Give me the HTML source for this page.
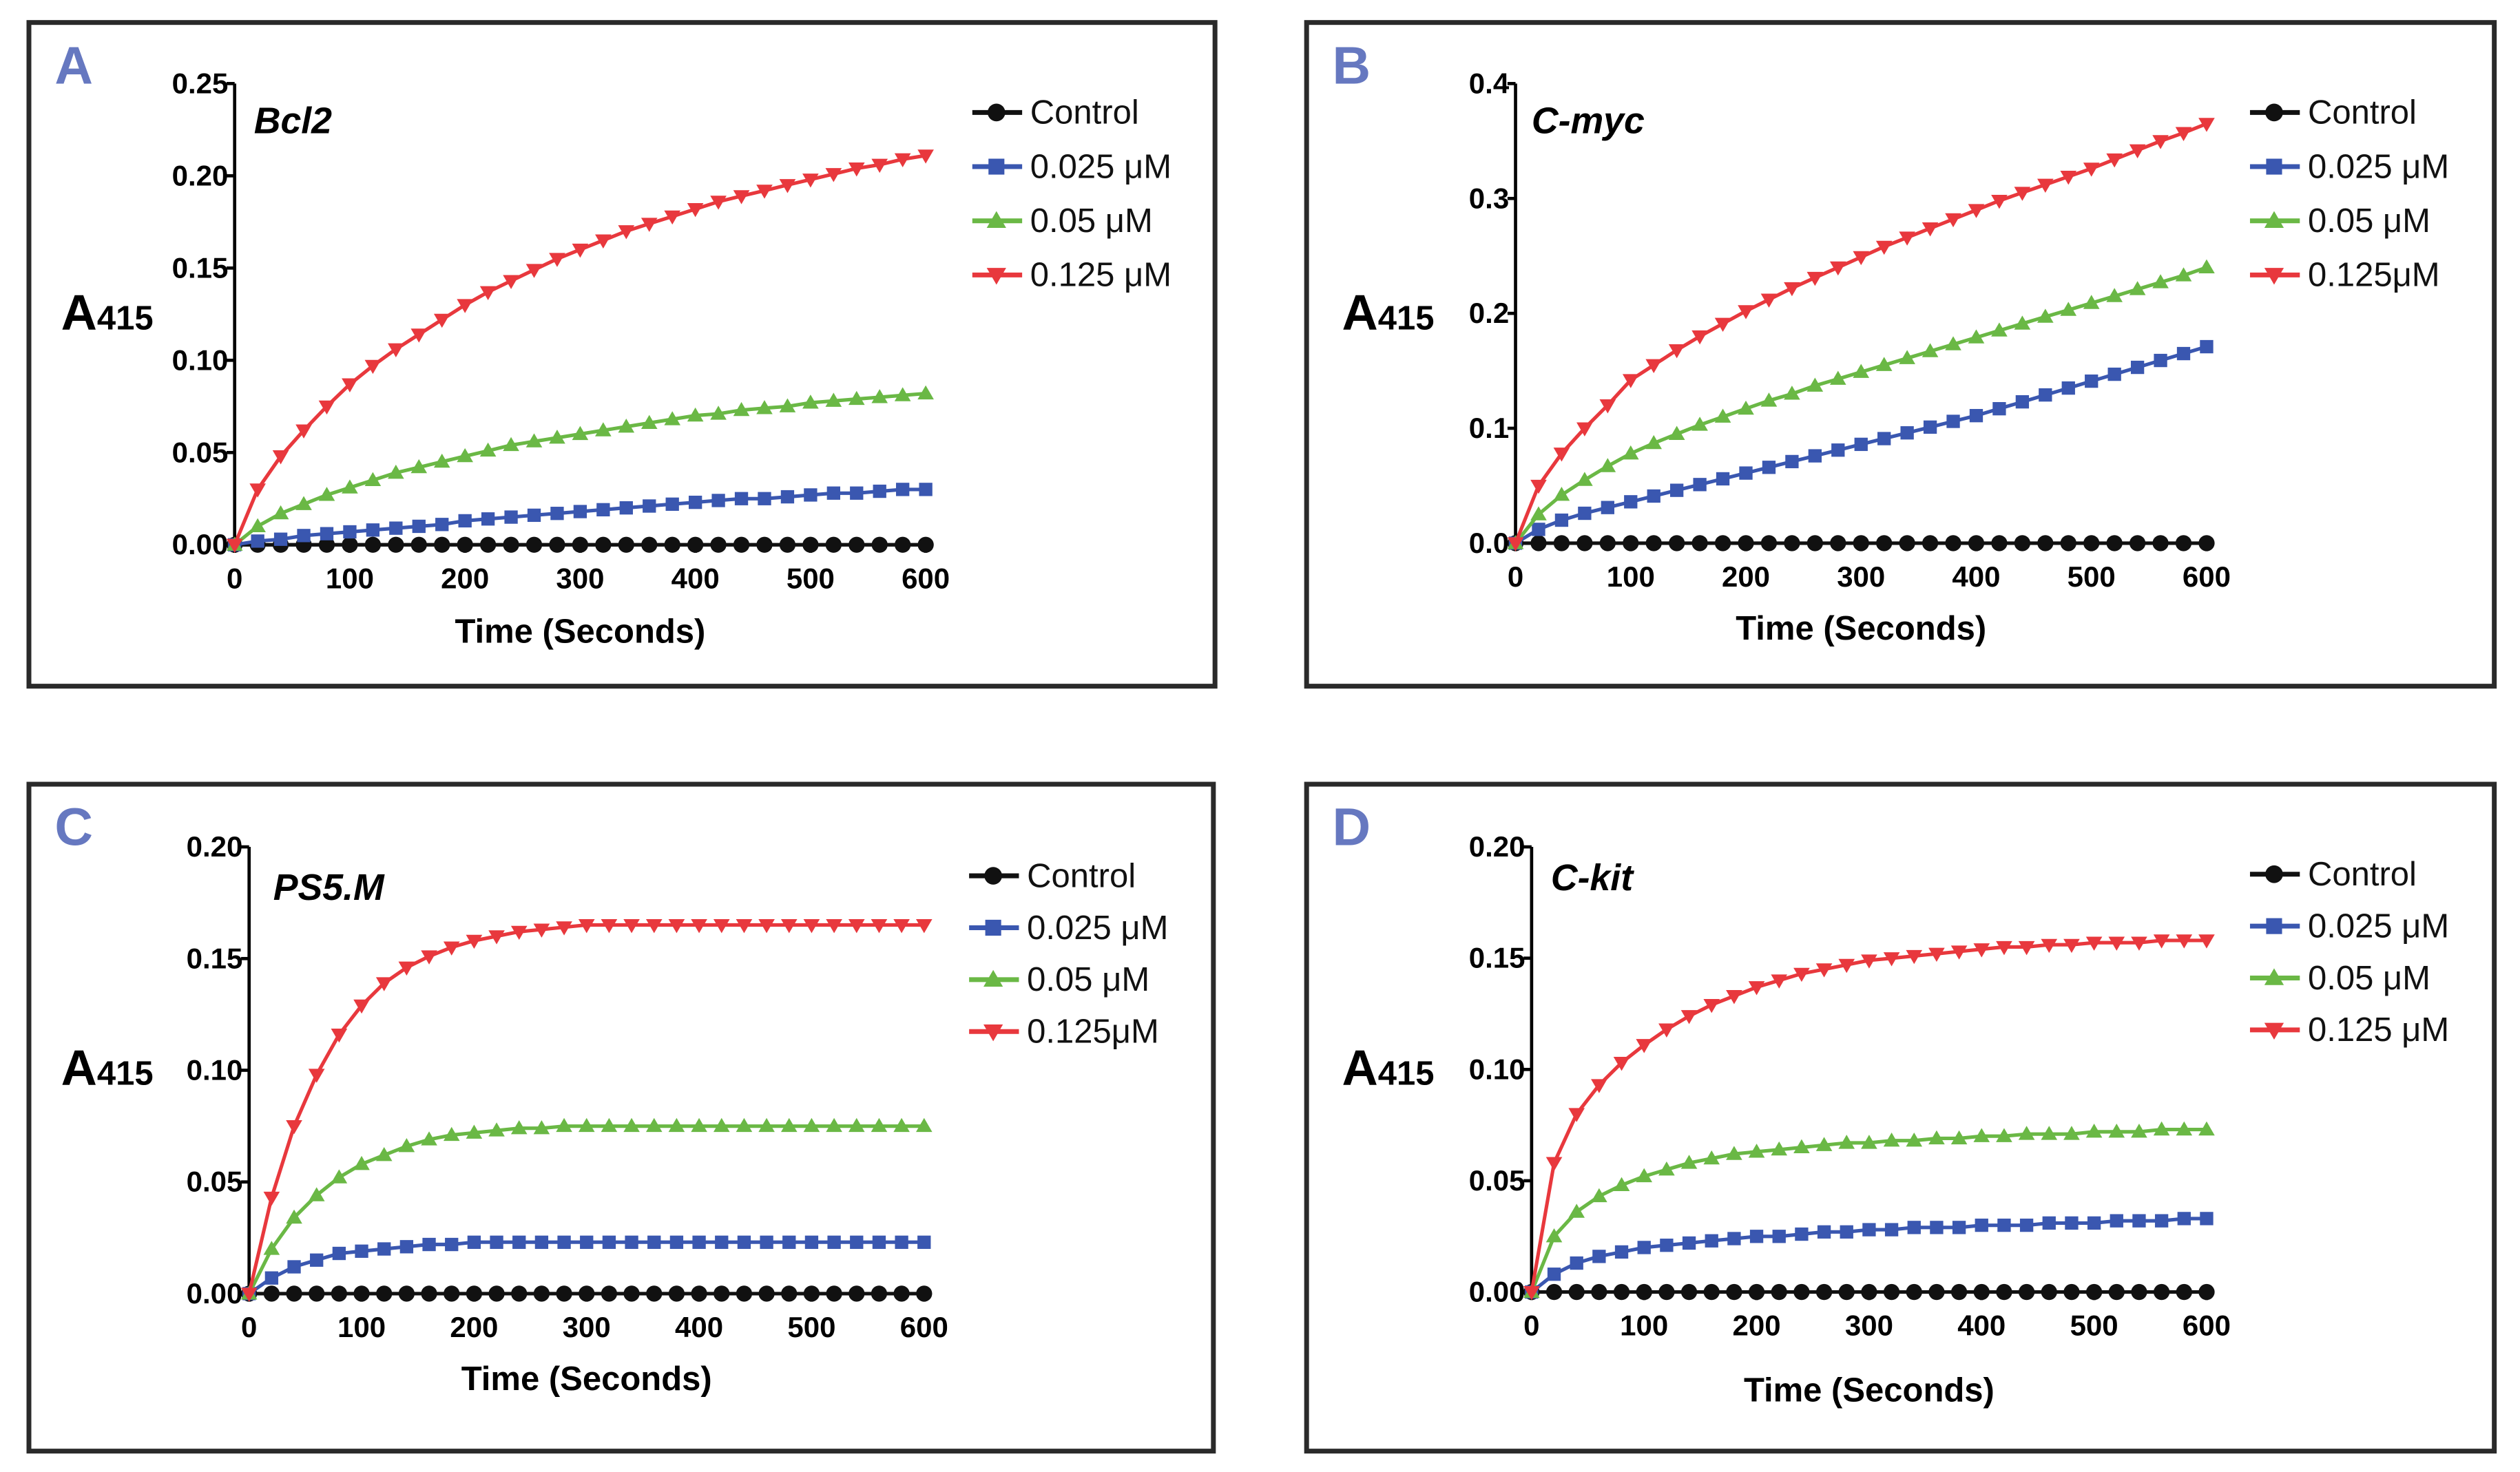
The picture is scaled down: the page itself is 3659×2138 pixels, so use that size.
<!DOCTYPE html>
<html><head><meta charset="utf-8"><style>
html,body{margin:0;padding:0;background:#fff;}
svg{display:block;font-family:"Liberation Sans",sans-serif;}
</style></head><body>
<svg id="fig" width="3659" height="2138" viewBox="0 0 1568 916" preserveAspectRatio="none" xmlns="http://www.w3.org/2000/svg"></svg>
<script>
const times = [0,20,40,60,80,100,120,140,160,180,200,220,240,260,280,300,320,340,360,380,400,420,440,460,480,500,520,540,560,580,600];
const xTicks = [0,100,200,300,400,500,600];
const legendLabelsA = ["Control","0.025 μM","0.05 μM","0.125 μM"];
const legendLabelsB = ["Control","0.025 μM","0.05 μM","0.125μM"];
const legendLabelsC = ["Control","0.025 μM","0.05 μM","0.125μM"];
const legendLabelsD = ["Control","0.025 μM","0.05 μM","0.125 μM"];
const ticksA = [0,0.05,0.10,0.15,0.20,0.25];
const tickLabelsA = ["0.00","0.05","0.10","0.15","0.20","0.25"];
const ticksB = [0,0.1,0.2,0.3,0.4];
const tickLabelsB = ["0.0","0.1","0.2","0.3","0.4"];
const ticksCD = [0,0.05,0.10,0.15,0.20];
const tickLabelsCD = ["0.00","0.05","0.10","0.15","0.20"];
const ctrl = times.map(()=>0);
const aBlue = [0,.002,.003,.005,.006,.007,.008,.009,.010,.011,.013,.014,.015,.016,.017,.018,.019,.020,.021,.022,.023,.024,.025,.025,.026,.027,.028,.028,.029,.030,.030];
const aGreen = [0,.010,.017,.022,.027,.031,.035,.039,.042,.045,.048,.051,.054,.056,.058,.060,.062,.064,.066,.068,.070,.071,.073,.074,.075,.077,.078,.079,.080,.081,.082];
const aRed = [0,.030,.048,.062,.075,.087,.097,.106,.114,.122,.130,.137,.143,.149,.155,.160,.165,.170,.174,.178,.182,.186,.189,.192,.195,.198,.201,.204,.206,.209,.211];
const bBlue = [0,.012,.020,.026,.031,.036,.041,.046,.051,.056,.061,.066,.071,.076,.081,.086,.091,.096,.101,.106,.111,.117,.123,.129,.135,.141,.147,.153,.159,.165,.171];
const bGreen = [0,.025,.042,.055,.067,.078,.087,.095,.103,.110,.117,.124,.130,.137,.143,.149,.155,.161,.167,.173,.179,.185,.191,.197,.203,.209,.215,.221,.227,.233,.240];
const bRed = [0,.050,.078,.100,.120,.142,.155,.168,.180,.191,.202,.212,.222,.231,.240,.249,.258,.266,.274,.282,.290,.298,.305,.312,.319,.326,.334,.342,.350,.357,.365];
const cBlue = [0,.007,.012,.015,.018,.019,.020,.021,.022,.022,.023,.023,.023,.023,.023,.023,.023,.023,.023,.023,.023,.023,.023,.023,.023,.023,.023,.023,.023,.023,.023];
const cGreen = [0,.020,.034,.044,.052,.058,.062,.066,.069,.071,.072,.073,.074,.074,.075,.075,.075,.075,.075,.075,.075,.075,.075,.075,.075,.075,.075,.075,.075,.075,.075];
const cRed = [0,.043,.075,.098,.116,.129,.139,.146,.151,.155,.158,.160,.162,.163,.164,.165,.165,.165,.165,.165,.165,.165,.165,.165,.165,.165,.165,.165,.165,.165,.165];
const dBlue = [0,.008,.013,.016,.018,.020,.021,.022,.023,.024,.025,.025,.026,.027,.027,.028,.028,.029,.029,.029,.030,.030,.030,.031,.031,.031,.032,.032,.032,.033,.033];
const dGreen = [0,.025,.036,.043,.048,.052,.055,.058,.060,.062,.063,.064,.065,.066,.067,.067,.068,.068,.069,.069,.070,.070,.071,.071,.071,.072,.072,.072,.073,.073,.073];
const dRed = [0,.058,.080,.093,.103,.111,.118,.124,.129,.133,.137,.140,.143,.145,.147,.149,.150,.151,.152,.153,.154,.155,.155,.156,.156,.157,.157,.157,.158,.158,.158];

const NS="http://www.w3.org/2000/svg";
const svg=document.getElementById('fig');
const COLORS=["#111","#3a57b0","#6ab845","#e8383d"];
const MARK=["circle","square","up","down"];
function mk(tag,attrs,parent){const e=document.createElementNS(NS,tag);for(const k in attrs)e.setAttribute(k,attrs[k]);(parent||svg).appendChild(e);return e;}
function txt(s,attrs,parent){const e=mk('text',attrs,parent);e.textContent=s;return e;}
function marker(g,type,x,y,c,s){
  let e;
  if(type==="circle") e=mk('circle',{cx:x,cy:y,r:s,fill:c},g);
  else if(type==="square") e=mk('rect',{x:x-s*0.9,y:y-s*0.9,width:s*1.8,height:s*1.8,fill:c},g);
  else if(type==="up") e=mk('polygon',{points:`${x},${y-s*1.1} ${x-s*1.1},${y+s*0.8} ${x+s*1.1},${y+s*0.8}`,fill:c},g);
  else e=mk('polygon',{points:`${x},${y+s*1.1} ${x-s*1.1},${y-s*0.8} ${x+s*1.1},${y-s*0.8}`,fill:c},g);
  return e;
}
function panel(p){
  const g=mk('g',{});
  
  
  const box=mk('rect',{x:p.box[0],y:p.box[1],width:p.box[2]-p.box[0],height:p.box[3]-p.box[1],fill:'none',stroke:'#2a2a2a','stroke-width':3},g);
  
  
  const X=t=>p.x0+(t/600)*(p.x1-p.x0);
  const Y=v=>p.y0-(v/p.ymax)*(p.y0-p.y1);
  const letter=txt(p.id,{x:p.box[0]+16,y:p.box[1]+38,'font-size':33,'font-weight':'bold',fill:'#6678c0'},g);
  
  
  const yl=mk('text',{x:p.alab[0],y:p.alab[1],'font-weight':'bold',fill:'#000'},g);
  
  
  const t1=mk('tspan',{'font-size':31},yl);t1.textContent='A';
  const t2=mk('tspan',{'font-size':21},yl);t2.textContent='415';
  const title=txt(p.title,{x:p.tpos[0],y:p.tpos[1],'font-size':23,'font-weight':'bold','font-style':'italic'},g);
  
  
  const ax=mk('path',{d:`M${p.x0},${p.y1} V${p.y0} H${X(600)}`,stroke:'#000','stroke-width':2,fill:'none'},g);
  
  
  p.ticks.forEach((v,i)=>{
    mk('line',{x1:p.x0-5,x2:p.x0,y1:Y(v),y2:Y(v),stroke:'#000','stroke-width':2},g);
    const t=txt(p.tickLabels[i],{x:p.x0-4,y:Y(v)+6,'font-size':18,'font-weight':'bold','text-anchor':'end'},g);
    
    
  });
  xTicks.forEach(v=>{
    mk('line',{x1:X(v),x2:X(v),y1:p.y0,y2:p.y0+5,stroke:'#000','stroke-width':2},g);
    const t=txt(String(v),{x:X(v),y:p.y0+27,'font-size':18,'font-weight':'bold','text-anchor':'middle'},g);
    
    
  });
  const xt=txt('Time (Seconds)',{x:(p.x0+X(600))/2,y:p.xtY,'font-size':21,'font-weight':'bold','text-anchor':'middle'},g);
  
  
  p.series.forEach((s,si)=>{
    const sg=mk('g',{},g);
    
    
    const d=times.map((t,i)=>(i?'L':'M')+X(t).toFixed(1)+','+Y(s[i]).toFixed(1)).join(' ');
    mk('path',{d:d,stroke:COLORS[si],'stroke-width':2.2,fill:'none'},sg);
    times.forEach((t,i)=>{
      const m=marker(sg,MARK[si],X(t),Y(s[i]),COLORS[si],si===0?5:4.6);
      
      
    });
  });
  p.legendLabels.forEach((lab,i)=>{
    const lg=mk('g',{},g);
    
    
    const y=p.leg[1]+i*p.leg[2];
    mk('line',{x1:p.leg[0],x2:p.leg[0]+31,y1:y,y2:y,stroke:COLORS[i],'stroke-width':3},lg);
    marker(lg,MARK[i],p.leg[0]+15,y,COLORS[i],5.5);
    txt(lab,{x:p.leg[0]+36,y:y+7,'font-size':21,fill:'#111'},lg);
  });
}
panel({id:'A',title:'Bcl2',box:[18,14,756,427],x0:146,x1:576,y0:339,y1:52,ymax:0.25,ticks:ticksA,tickLabels:tickLabelsA,
  alab:[38,205],tpos:[158,83],xtY:400,leg:[605,70,33.7],legendLabels:legendLabelsA,series:[ctrl,aBlue,aGreen,aRed]});
panel({id:'B',title:'C-myc',box:[813,14,1552,427],x0:943,x1:1373,y0:338,y1:52,ymax:0.4,ticks:ticksB,tickLabels:tickLabelsB,
  alab:[835,205],tpos:[953,83],xtY:398,leg:[1400,70,33.7],legendLabels:legendLabelsB,series:[ctrl,bBlue,bGreen,bRed]});
panel({id:'C',title:'PS5.M',box:[18,488,755,903],x0:155,x1:575,y0:805,y1:527,ymax:0.20,ticks:ticksCD,tickLabels:tickLabelsCD,
  alab:[38,675],tpos:[170,560],xtY:865,leg:[603,545,32.3],legendLabels:legendLabelsC,series:[ctrl,cBlue,cGreen,cRed]});
panel({id:'D',title:'C-kit',box:[813,488,1552,903],x0:953,x1:1373,y0:804,y1:527,ymax:0.20,ticks:ticksCD,tickLabels:tickLabelsCD,
  alab:[835,675],tpos:[965,554],xtY:872,leg:[1400,544,32.3],legendLabels:legendLabelsD,series:[ctrl,dBlue,dGreen,dRed]});
</script>
</body></html>
